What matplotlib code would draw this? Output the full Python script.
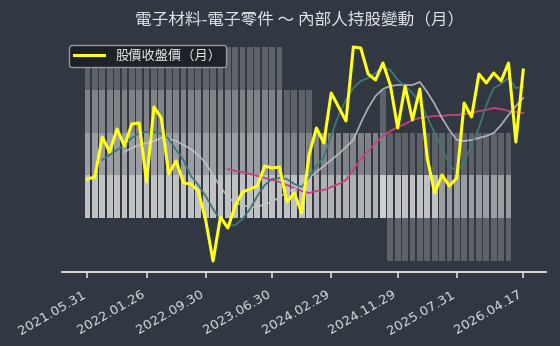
import numpy as np
import matplotlib
matplotlib.use("Agg")
import matplotlib.pyplot as plt
import matplotlib.transforms as mtransforms

plt.rcParams['font.family'] = ['Noto Sans CJK TC', 'DejaVu Sans']

nan = np.nan

# monthly closing price, 2021.05 ~ 2026.04 (60 months)
price = [24.2, 24.6, 32.6, 29.6, 34.2, 30.8, 35.2, 35.4, 23.6, 38.6,
         36.4, 25.2, 27.8, 23.4, 23.2, 21.8, 16.0, 7.8, 16.6, 14.4,
         18.8, 21.6, 22.2, 22.8, 26.8, 26.4, 26.6, 19.6, 21.4, 17.4,
         29.0, 34.4, 31.4, 41.4, 38.6, 35.8, 50.6, 50.4, 45.2, 44.0,
         47.4, 43.0, 34.4, 42.8, 36.0, 42.2, 28.4, 21.4, 25.0, 22.8,
         24.4, 39.4, 36.6, 45.2, 43.4, 45.4, 43.8, 47.4, 31.6, 46.0]

ma_short = [nan, nan, 28.0, 29.0, 30.0, 31.0, 32.4, 33.4, 33.6, 33.6,
            33.2, 32.2, 30.0, 28.0, 24.8, 23.0, 20.8, 18.2, 16.0, 14.8,
            15.0, 16.2, 18.2, 20.8, 23.0, 24.2, 24.4, 24.2, 23.2, 22.6,
            24.6, 26.8, 28.6, 32.8, 37.0, 40.0, 42.4, 43.8, 44.4, 45.4,
            46.6, 46.0, 44.0, 42.8, 41.4, 39.4, 36.6, 33.4, 30.4, 27.0,
            25.6, 27.6, 31.0, 34.4, 39.0, 42.4, 43.2, 44.4, 42.4, 42.6]

ma_mid = [nan, nan, nan, nan, nan, 29.6, 30.4, 31.0, 31.4, 31.8,
          32.4, 32.2, 31.8, 31.0, 30.2, 29.0, 27.4, 25.0, 22.6, 20.6,
          19.4, 19.0, 18.6, 18.6, 19.2, 19.6, 20.6, 21.6, 22.2, 23.0,
          24.4, 25.6, 26.8, 28.0, 29.2, 30.6, 32.0, 35.4, 38.4, 40.8,
          42.2, 42.8, 43.0, 43.0, 43.0, 43.6, 41.6, 39.2, 36.4, 34.0,
          32.0, 31.8, 32.0, 32.4, 32.8, 33.4, 35.0, 37.0, 38.8, 40.4]

ma_long = [nan] * 19 + [
    26.2, 25.8, 25.6, 25.2, 24.8, 24.4, 24.0, 23.6, 23.0, 22.4,
    21.8, 21.4, 21.8, 22.0, 22.6, 23.2, 24.0, 26.0, 28.2, 29.8,
    31.4, 32.8, 33.8, 34.6, 35.2, 36.0, 36.4, 36.6, 36.8, 36.8,
    37.0, 37.0, 37.2, 37.4, 37.8, 38.0, 38.4, 38.2, 37.8, 37.6,
    37.4]

# insider holding levels (58 months with data), overlapping layers
layer_base = [1] * 41 + [0] * 17
layer_tops = [
    [5] * 27 + [4] * 4 + [3] * 9 + [4] + [3] * 17,
    [4] * 27 + [3] * 4 + [3] * 9 + [3] + [2] * 17,
    [3] * 27 + [2] * 4 + [2] * 9 + [2] + [2] * 17,
    [2] * 27 + [2] * 4 + [2] * 9 + [2] + [2] * 7 + [1] * 10,
    [2] * 27 + [2] * 4 + [1] * 9 + [2] + [2] * 7 + [1] * 10,
    [1] * 27 + [1] * 4 + [1] * 9 + [2] + [1] * 17,
]

tick_idx = [0, 8, 16, 25, 33, 42, 50, 59]
tick_labels = ['2021.05.31', '2022.01.26', '2022.09.30', '2023.06.30',
               '2024.02.29', '2024.11.29', '2025.07.31', '2026.04.17']

bg = '#323842'
fig = plt.figure(figsize=(5.6, 3.46), dpi=100, facecolor=bg)
ax = fig.add_axes([62 / 560, 74 / 346, 484 / 560, 237 / 346])
ax.set_facecolor(bg)

x = np.arange(len(price))
xb = np.arange(len(layer_base))
for i, tops in enumerate(layer_tops):
    bottoms = [1 if i > 0 else b for b in layer_base]
    heights = np.array(tops) - np.array(bottoms)
    ax.bar(xb, heights, bottom=bottoms, width=0.78, color='white',
           alpha=0.21, linewidth=0)
ax.set_ylim(-0.257, 5.28)
ax.set_xlim(-3.45, 62.08)

for s in ['top', 'right', 'left']:
    ax.spines[s].set_visible(False)
ax.spines['bottom'].set_color('#e8e8e8')
ax.spines['bottom'].set_linewidth(1.3)
ax.set_yticks([])
ax.set_xticks(tick_idx)
ax.set_xticklabels(tick_labels, rotation=30, ha='right',
                   rotation_mode='anchor', color='#d8dce0', fontsize=9.5,
                   family='DejaVu Sans')
ax.tick_params(axis='x', colors='#e8e8e8', length=4, width=1.1, pad=6,
               labelcolor='#d8dce0')
shift = mtransforms.ScaledTranslation(-6 / 100, -2 / 100, fig.dpi_scale_trans)
for lab in ax.get_xticklabels():
    lab.set_transform(lab.get_transform() + shift)

ax2 = ax.twinx()
ax2.patch.set_visible(False)
for s in ax2.spines.values():
    s.set_visible(False)
ax2.set_yticks([])
ax2.plot(x, ma_long, color='#c8407f', lw=1.3)
ax2.plot(x, ma_mid, color='#c4c8cc', lw=1.3, alpha=0.8)
ax2.plot(x, ma_short, color='#3f7676', lw=1.3)
ax2.plot(x, price, color='#ffff1a', lw=2.2, label='股價收盤價（月）')
ax2.set_ylim(5.6, 53)
ax2.set_xlim(-3.45, 62.08)

leg = ax2.legend(loc='upper left', bbox_to_anchor=(0.0145, 0.958),
                 borderaxespad=0, fontsize=9.5, handlelength=2.3,
                 handletextpad=0.9, borderpad=0.35, fancybox=True,
                 facecolor='#1c2026', edgecolor='#9a9ea3', framealpha=0.95)
for t in leg.get_texts():
    t.set_color('#e6e8ea')

fig.text(300 / 560, 1 - 20 / 346, '電子材料-電子零件 ～ 內部人持股變動（月）',
         ha='center', va='center', fontsize=12, color='#dfe3e8')

fig.savefig('out.png', dpi=100, facecolor=bg)
